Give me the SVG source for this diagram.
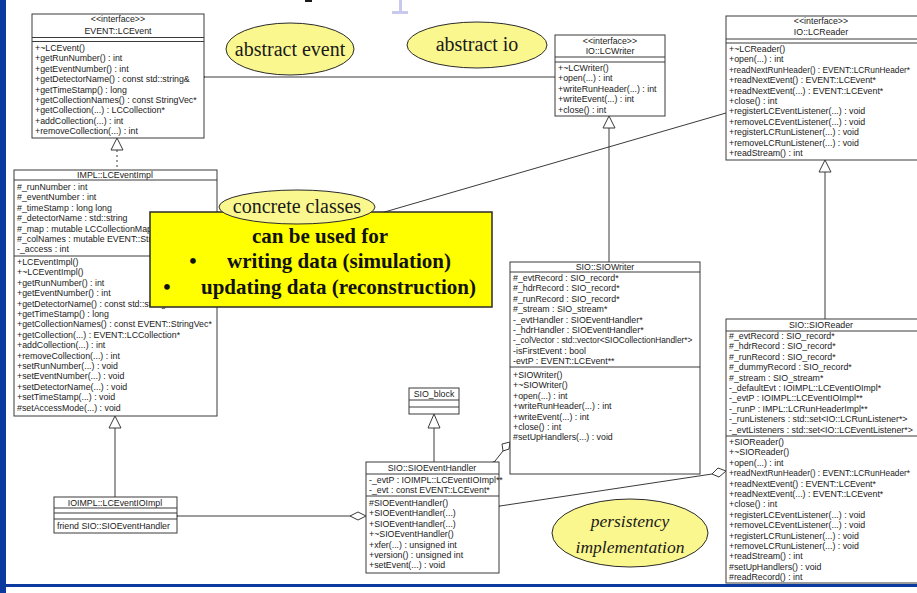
<svg xmlns="http://www.w3.org/2000/svg" width="917" height="593" viewBox="0 0 917 593">
<style>
  .box { fill: #ffffff; stroke: #3a3a3a; stroke-width: 1; }
  .sep { stroke: #3a3a3a; stroke-width: 1; }
  .t { font-family: "Liberation Sans", Arial, sans-serif; font-size: 8.8px; fill: #1a1a1a; }
  .s { font-size: 8.3px; }
  .c { text-anchor: middle; }
  .wire { fill: none; stroke: #3a3a3a; stroke-width: 1; }
  .tri { fill: #ffffff; stroke: #3a3a3a; stroke-width: 1; }
  .note { fill: #fbf78f; stroke: #2a2a2a; stroke-width: 1; }
  .nt { font-family: "Liberation Serif", "Times New Roman", serif; font-size: 20px; fill: #1a1a1a; text-anchor: middle; }
  .it { font-family: "Liberation Serif", "Times New Roman", serif; font-size: 17.5px; font-style: italic; fill: #1a1a1a; text-anchor: middle; }
  .bt { font-family: "Liberation Serif", "Times New Roman", serif; font-size: 21px; font-weight: bold; fill: #111111; }
</style>
<defs>
  <marker id="open" markerWidth="12" markerHeight="10" refX="0" refY="5" orient="auto" markerUnits="userSpaceOnUse">
    <path d="M11,0.5 L0,5 L11,9.5" fill="none" stroke="#3a3a3a" stroke-width="1"/>
  </marker>
</defs>

<!-- page frame -->
<rect x="0" y="0" width="917" height="593" fill="#ffffff"/>
<rect x="0" y="0" width="6" height="593" fill="#0b3a9e"/>
<rect x="0" y="584" width="917" height="3" fill="#0b3a9e"/>
<!-- remnants of the slide title along the top edge -->
<rect x="305" y="0" width="7" height="2" fill="#1a1a1a"/>
<path d="M399,0 h3 v11 h6 v3 h-16 v-3 h7 Z" fill="#c9c9ee"/>

<!-- connectors -->
<g id="connectors">
  <line class="wire" x1="555" y1="77" x2="205" y2="77" marker-end="url(#open)"/>
  <line class="wire" x1="350" y1="222" x2="726" y2="113"/>
  <line class="wire" x1="117" y1="150" x2="117" y2="170" stroke-dasharray="2,3"/>
  <path class="tri" d="M117,138 L111,150 L123,150 Z"/>
  <line class="wire" x1="609" y1="128" x2="609" y2="262"/>
  <path class="tri" d="M609,116 L603,128 L615,128 Z"/>
  <line class="wire" x1="825" y1="172" x2="825" y2="319"/>
  <path class="tri" d="M825,160 L819,172 L831,172 Z"/>
  <line class="wire" x1="115" y1="428" x2="115" y2="497"/>
  <path class="tri" d="M115,416 L109,428 L121,428 Z"/>
  <line class="wire" x1="434" y1="428" x2="434" y2="462"/>
  <path class="tri" d="M434,414 L428,428 L440,428 Z"/>
  <line class="wire" x1="350" y1="516" x2="178" y2="516" marker-end="url(#open)"/>
  <path class="tri" d="M366,516 L358,512 L350,516 L358,520 Z"/>
  <line class="wire" x1="503" y1="451" x2="495" y2="461" marker-end="url(#open)"/>
  <path class="tri" d="M510,442 L502,444 L503,451 L509,449 Z"/>
  <line class="wire" x1="712" y1="474" x2="500" y2="506" marker-end="url(#open)"/>
  <path class="tri" d="M726,471 L718,468 L712,474 L719,477 Z"/>
</g>

<!-- EVENT::LCEvent -->
<g id="lcevent">
  <rect class="box" x="32" y="14" width="172" height="124"/>
  <line class="sep" x1="32" y1="37.5" x2="204" y2="37.5"/>
  <line class="sep" x1="32" y1="41.5" x2="204" y2="41.5"/>
  <text class="t c" x="118" y="22">&lt;&lt;interface&gt;&gt;</text>
  <text class="t c" x="118" y="34">EVENT::LCEvent</text>
  <text class="t" x="35" y="51">+~LCEvent()</text>
  <text class="t" x="35" y="61.4">+getRunNumber() : int</text>
  <text class="t" x="35" y="71.8">+getEventNumber() : int</text>
  <text class="t" x="35" y="82.2">+getDetectorName() : const std::string&amp;</text>
  <text class="t" x="35" y="92.6">+getTimeStamp() : long</text>
  <text class="t" x="35" y="103">+getCollectionNames() : const StringVec*</text>
  <text class="t" x="35" y="113.4">+getCollection(...) : LCCollection*</text>
  <text class="t" x="35" y="123.8">+addCollection(...) : int</text>
  <text class="t" x="35" y="134.2">+removeCollection(...) : int</text>
</g>

<!-- IO::LCWriter -->
<g id="lcwriter">
  <rect class="box" x="555" y="35" width="110" height="81"/>
  <line class="sep" x1="555" y1="57" x2="665" y2="57"/>
  <line class="sep" x1="555" y1="62" x2="665" y2="62"/>
  <text class="t c" x="610" y="44">&lt;&lt;interface&gt;&gt;</text>
  <text class="t c" x="610" y="54">IO::LCWriter</text>
  <text class="t" x="558" y="71">+~LCWriter()</text>
  <text class="t" x="558" y="81.4">+open(...) : int</text>
  <text class="t" x="558" y="91.8">+writeRunHeader(...) : int</text>
  <text class="t" x="558" y="102.2">+writeEvent(...) : int</text>
  <text class="t" x="558" y="112.6">+close() : int</text>
</g>

<!-- IO::LCReader -->
<g id="lcreader">
  <rect class="box" x="726" y="16" width="200" height="144"/>
  <line class="sep" x1="726" y1="39" x2="917" y2="39"/>
  <line class="sep" x1="726" y1="43" x2="917" y2="43"/>
  <text class="t c" x="821" y="24">&lt;&lt;interface&gt;&gt;</text>
  <text class="t c" x="821" y="35">IO::LCReader</text>
  <text class="t" x="729" y="52">+~LCReader()</text>
  <text class="t" x="729" y="62.4">+open(...) : int</text>
  <text class="t s" x="729" y="72.8">+readNextRunHeader() : EVENT::LCRunHeader*</text>
  <text class="t" x="729" y="83.2">+readNextEvent() : EVENT::LCEvent*</text>
  <text class="t" x="729" y="93.6">+readNextEvent(...) : EVENT::LCEvent*</text>
  <text class="t" x="729" y="104">+close() : int</text>
  <text class="t" x="729" y="114.4">+registerLCEventListener(...) : void</text>
  <text class="t" x="729" y="124.8">+removeLCEventListener(...) : void</text>
  <text class="t" x="729" y="135.2">+registerLCRunListener(...) : void</text>
  <text class="t" x="729" y="145.6">+removeLCRunListener(...) : void</text>
  <text class="t" x="729" y="156">+readStream() : int</text>
</g>

<!-- IMPL::LCEventImpl -->
<g id="lceventimpl">
  <rect class="box" x="14" y="170" width="203" height="246"/>
  <line class="sep" x1="14" y1="180" x2="217" y2="180"/>
  <line class="sep" x1="14" y1="256" x2="217" y2="256"/>
  <text class="t c" x="115" y="178">IMPL::LCEventImpl</text>
  <text class="t" x="17" y="190">#_runNumber : int</text>
  <text class="t" x="17" y="200.4">#_eventNumber : int</text>
  <text class="t" x="17" y="210.8">#_timeStamp : long long</text>
  <text class="t" x="17" y="221.2">#_detectorName : std::string</text>
  <text class="t" x="17" y="231.6">#_map : mutable LCCollectionMap</text>
  <text class="t" x="17" y="242">#_colNames : mutable EVENT::StringVec</text>
  <text class="t" x="17" y="252.4">-_access : int</text>
  <text class="t" x="17" y="265">+LCEventImpl()</text>
  <text class="t" x="17" y="275.4">+~LCEventImpl()</text>
  <text class="t" x="17" y="285.8">+getRunNumber() : int</text>
  <text class="t" x="17" y="296.2">+getEventNumber() : int</text>
  <text class="t" x="17" y="306.6">+getDetectorName() : const std::string&amp;</text>
  <text class="t" x="17" y="317">+getTimeStamp() : long</text>
  <text class="t" x="17" y="327.4">+getCollectionNames() : const EVENT::StringVec*</text>
  <text class="t" x="17" y="337.8">+getCollection(...) : EVENT::LCCollection*</text>
  <text class="t" x="17" y="348.2">+addCollection(...) : int</text>
  <text class="t" x="17" y="358.6">+removeCollection(...) : int</text>
  <text class="t" x="17" y="369">+setRunNumber(...) : void</text>
  <text class="t" x="17" y="379.4">+setEventNumber(...) : void</text>
  <text class="t" x="17" y="389.8">+setDetectorName(...) : void</text>
  <text class="t" x="17" y="400.2">+setTimeStamp(...) : void</text>
  <text class="t" x="17" y="410.6">#setAccessMode(...) : void</text>
</g>

<!-- IOIMPL::LCEventIOImpl -->
<g id="lceventioimpl">
  <rect class="box" x="54" y="497" width="123" height="36"/>
  <line class="sep" x1="54" y1="508" x2="177" y2="508"/>
  <line class="sep" x1="54" y1="513" x2="177" y2="513"/>
  <line class="sep" x1="54" y1="519" x2="177" y2="519"/>
  <text class="t c" x="115" y="505.5">IOIMPL::LCEventIOImpl</text>
  <text class="t" x="57" y="529">friend  SIO::SIOEventHandler</text>
</g>

<!-- SIO_block -->
<g id="sioblock">
  <rect class="box" x="409" y="388" width="50" height="26"/>
  <line class="sep" x1="409" y1="400" x2="459" y2="400"/>
  <line class="sep" x1="409" y1="407" x2="459" y2="407"/>
  <text class="t c" x="434" y="397">SIO_block</text>
</g>

<!-- SIO::SIOEventHandler -->
<g id="sioeventhandler">
  <rect class="box" x="366" y="462" width="133" height="111"/>
  <line class="sep" x1="366" y1="474" x2="499" y2="474"/>
  <line class="sep" x1="366" y1="496" x2="499" y2="496"/>
  <text class="t c" x="432" y="471">SIO::SIOEventHandler</text>
  <text class="t" x="369" y="483">-_evtP : IOIMPL::LCEventIOImpl**</text>
  <text class="t" x="369" y="493.4">-_evt : const EVENT::LCEvent*</text>
  <text class="t" x="369" y="506">#SIOEventHandler()</text>
  <text class="t" x="369" y="516.4">+SIOEventHandler(...)</text>
  <text class="t" x="369" y="526.8">+SIOEventHandler(...)</text>
  <text class="t" x="369" y="537.2">+~SIOEventHandler()</text>
  <text class="t" x="369" y="547.6">+xfer(...) : unsigned int</text>
  <text class="t" x="369" y="558">+version() : unsigned int</text>
  <text class="t" x="369" y="568.4">+setEvent(...) : void</text>
</g>

<!-- SIO::SIOWriter -->
<g id="siowriter">
  <rect class="box" x="510" y="262" width="190" height="212"/>
  <line class="sep" x1="510" y1="272" x2="700" y2="272"/>
  <line class="sep" x1="510" y1="367" x2="700" y2="367"/>
  <text class="t c" x="605" y="270">SIO::SIOWriter</text>
  <text class="t" x="513" y="281">#_evtRecord : SIO_record*</text>
  <text class="t" x="513" y="291.4">#_hdrRecord : SIO_record*</text>
  <text class="t" x="513" y="301.8">#_runRecord : SIO_record*</text>
  <text class="t" x="513" y="312.2">#_stream : SIO_stream*</text>
  <text class="t" x="513" y="322.6">-_evtHandler : SIOEventHandler*</text>
  <text class="t" x="513" y="333">-_hdrHandler : SIOEventHandler*</text>
  <text class="t s" x="513" y="343.4">-_colVector : std::vector&lt;SIOCollectionHandler*&gt;</text>
  <text class="t" x="513" y="353.8">-isFirstEvent : bool</text>
  <text class="t" x="513" y="364.2">-evtP : EVENT::LCEvent**</text>
  <text class="t" x="513" y="378">+SIOWriter()</text>
  <text class="t" x="513" y="388.4">+~SIOWriter()</text>
  <text class="t" x="513" y="398.8">+open(...) : int</text>
  <text class="t" x="513" y="409.2">+writeRunHeader(...) : int</text>
  <text class="t" x="513" y="419.6">+writeEvent(...) : int</text>
  <text class="t" x="513" y="430">+close() : int</text>
  <text class="t" x="513" y="440.4">#setUpHandlers(...) : void</text>
</g>

<!-- SIO::SIOReader -->
<g id="sioreader">
  <rect class="box" x="726" y="319" width="200" height="264"/>
  <line class="sep" x1="726" y1="331" x2="917" y2="331"/>
  <line class="sep" x1="726" y1="436" x2="917" y2="436"/>
  <text class="t c" x="821" y="328">SIO::SIOReader</text>
  <text class="t" x="729" y="339">#_evtRecord : SIO_record*</text>
  <text class="t" x="729" y="349.4">#_hdrRecord : SIO_record*</text>
  <text class="t" x="729" y="359.8">#_runRecord : SIO_record*</text>
  <text class="t" x="729" y="370.2">#_dummyRecord : SIO_record*</text>
  <text class="t" x="729" y="380.6">#_stream : SIO_stream*</text>
  <text class="t" x="729" y="391">-_defaultEvt : IOIMPL::LCEventIOImpl*</text>
  <text class="t" x="729" y="401.4">-_evtP : IOIMPL::LCEventIOImpl**</text>
  <text class="t" x="729" y="411.8">-_runP : IMPL::LCRunHeaderImpl**</text>
  <text class="t" x="729" y="422.2">-_runListeners : std::set&lt;IO::LCRunListener*&gt;</text>
  <text class="t" x="729" y="432.6">-_evtListeners : std::set&lt;IO::LCEventListener*&gt;</text>
  <text class="t" x="729" y="445">+SIOReader()</text>
  <text class="t" x="729" y="455.4">+~SIOReader()</text>
  <text class="t" x="729" y="465.8">+open(...) : int</text>
  <text class="t s" x="729" y="476.2">+readNextRunHeader() : EVENT::LCRunHeader*</text>
  <text class="t" x="729" y="486.6">+readNextEvent() : EVENT::LCEvent*</text>
  <text class="t" x="729" y="497">+readNextEvent(...) : EVENT::LCEvent*</text>
  <text class="t" x="729" y="507.4">+close() : int</text>
  <text class="t" x="729" y="517.8">+registerLCEventListener(...) : void</text>
  <text class="t" x="729" y="528.2">+removeLCEventListener(...) : void</text>
  <text class="t" x="729" y="538.6">+registerLCRunListener(...) : void</text>
  <text class="t" x="729" y="549">+removeLCRunListener(...) : void</text>
  <text class="t" x="729" y="559.4">+readStream() : int</text>
  <text class="t" x="729" y="569.8">#setUpHandlers() : void</text>
  <text class="t" x="729" y="580.2">#readRecord() : int</text>
</g>

<!-- annotations -->
<g id="note-abstract-event">
  <ellipse class="note" cx="290" cy="49" rx="64" ry="26"/>
  <text class="nt" x="290" y="56">abstract event</text>
</g>
<g id="note-abstract-io">
  <ellipse class="note" cx="477" cy="45" rx="70" ry="23"/>
  <text class="nt" x="477" y="51">abstract io</text>
</g>
<g id="callout">
  <rect x="150" y="212" width="342" height="95" fill="#ffff00" stroke="#2a2a2a" stroke-width="1.5"/>
  <text class="bt" x="320" y="243" text-anchor="middle">can be used for</text>
  <text class="bt" x="193" y="268" text-anchor="middle">•</text>
  <text class="bt" x="227" y="268">writing data (simulation)</text>
  <text class="bt" x="167" y="294" text-anchor="middle">•</text>
  <text class="bt" x="201" y="294">updating data (reconstruction)</text>
</g>
<g id="note-concrete">
  <ellipse class="note" cx="297" cy="207" rx="78" ry="17"/>
  <text class="nt" x="297" y="213">concrete classes</text>
</g>
<g id="note-persistency">
  <ellipse class="note" cx="630" cy="533" rx="78" ry="34"/>
  <text class="it" x="630" y="527">persistency</text>
  <text class="it" x="630" y="553">implementation</text>
</g>
</svg>
